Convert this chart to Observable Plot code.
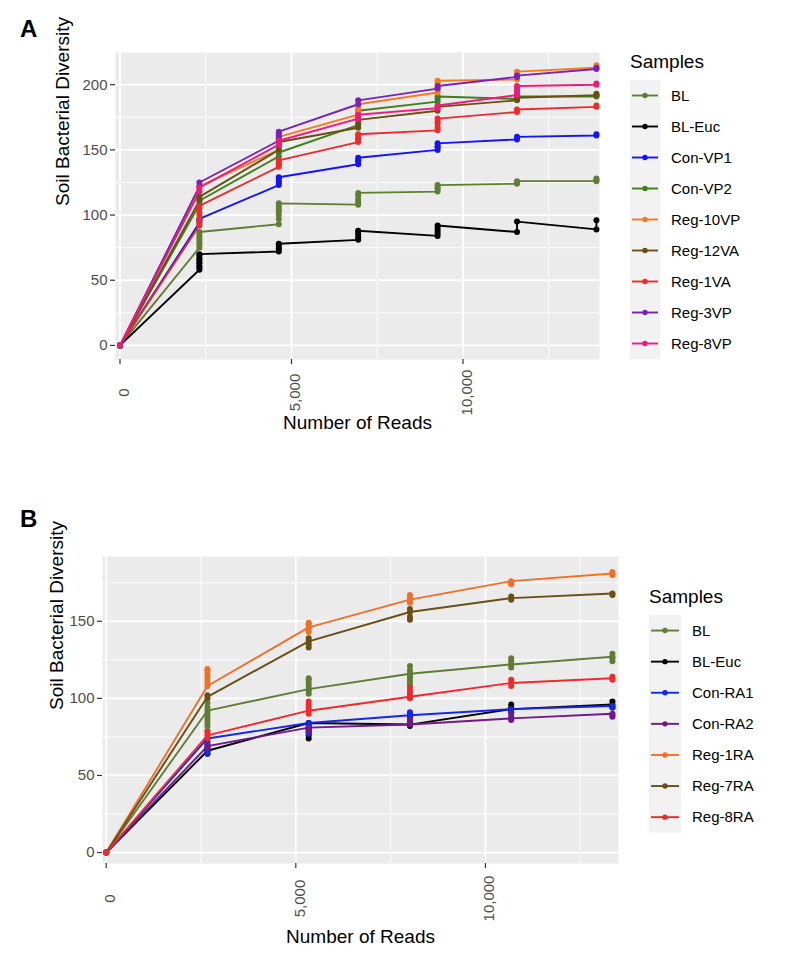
<!DOCTYPE html>
<html><head><meta charset="utf-8">
<script src="https://cdn.jsdelivr.net/npm/d3@7"></script>
<script src="https://cdn.jsdelivr.net/npm/@observablehq/plot@0.6"></script>
<style>
body{margin:0;background:#fff;font-family:"Liberation Sans",Arial,sans-serif;}
#wrap{position:relative;width:800px;height:967px;overflow:hidden;}
.panel{position:absolute;left:0;}
#overlay{position:absolute;left:0;top:0;pointer-events:none;}
</style></head><body><div id="wrap"></div>
<script>
// ---------- Panel A ----------
const readsA = [0, 2315, 4630, 6945, 9260, 11575, 13890];
const samplesA = ["BL", "BL-Euc", "Con-VP1", "Con-VP2", "Reg-10VP", "Reg-12VA", "Reg-1VA", "Reg-3VP", "Reg-8VP"];
const colorsA = ["#617d34", "#000000", "#1414f5", "#3f7f1f", "#f47a20", "#6a4f15", "#ee2a2a", "#7a22b8", "#ee1b7a"];
// values at each read depth (several rarefaction draws per depth); the line runs through all of them
const A_BL      = [[0], [75, 77, 79, 81, 83, 85, 87], [93, 97, 100, 103, 105, 107, 109], [108, 110, 112, 115, 117], [118, 120, 121, 123], [124, 125, 126], [126, 127, 128]];
const A_BLEuc   = [[0], [58, 60, 61, 63, 64, 66, 67, 69, 70], [72, 74, 75, 77, 78], [81, 83, 85, 87, 88], [84, 86, 88, 90, 92], [87, 95], [89, 96]];
const A_ConVP1  = [[0], [94, 96, 97], [123, 125, 126, 128, 129], [139, 141, 142, 144], [150, 152, 153, 155], [158, 160], [161, 162]];
const A_ConVP2  = [[0], [108, 111], [145, 148], [169, 175, 180], [187, 189, 191], [189, 191], [191, 192]];
const A_Reg10VP = [[0], [119, 122], [150, 153, 155, 158, 160], [177, 179, 181, 183, 185], [194, 196, 198, 201, 203], [204, 207, 210], [213, 215]];
const A_Reg12VA = [[0], [111, 114], [150, 153, 156], [167, 170, 173], [180, 183], [188, 190], [192, 193]];
const A_Reg1VA  = [[0], [92, 95, 97, 100, 102, 105, 107], [137, 139, 140, 142], [156, 158, 159, 161, 162], [165, 167, 170, 172, 174], [179, 181], [183, 184]];
const A_Reg3VP  = [[0], [122, 125], [157, 159, 161, 163, 164], [185, 188], [197, 199], [206, 207], [212, 213]];
const A_Reg8VP  = [[0], [118, 121], [154, 157], [174, 177], [182, 184], [192, 194, 196, 198, 199], [200, 201]];
const xTicks = [0, 5000, 10000];
const xMinor = [2500, 7500, 12500];
const yTicksA = [0, 50, 100, 150, 200];
const yMinorA = [25, 75, 125, 175];

// ---------- Panel B ----------
const readsB = [0, 2670, 5340, 8010, 10680, 13350];
const samplesB = ["BL", "BL-Euc", "Con-RA1", "Con-RA2", "Reg-1RA", "Reg-7RA", "Reg-8RA"];
const colorsB = ["#617d34", "#000000", "#1428e8", "#6e1a8a", "#f07028", "#6a4f15", "#ee2a2a"];
// dots: rarefaction draws at each depth
const B_BL     = [[0], [79, 82, 84, 86, 88, 90, 92, 94, 97], [103, 105, 106, 108, 110, 112, 113], [109, 111, 113, 115, 116, 118, 121], [120, 122, 124, 126], [124, 126, 127, 129]];
const B_BLEuc  = [[0], [64, 66, 67], [74, 76, 78, 80, 82, 84], [82, 84, 86, 88, 90], [91, 93, 94, 96], [94, 96, 98]];
const B_ConRA1 = [[0], [64, 66, 68, 70, 72, 74], [77, 79, 81, 83, 84], [86, 88, 89, 91], [91, 93], [94, 95]];
const B_ConRA2 = [[0], [68, 69, 70], [79, 81], [83, 85, 86], [86, 87, 88, 90], [88, 89, 90]];
const B_Reg1RA = [[0], [108, 110, 112, 114, 116, 118, 119], [143, 145, 146, 148, 149], [162, 164, 165, 167], [174, 175, 176], [180, 181, 182]];
const B_Reg7RA = [[0], [100, 102], [133, 135, 137, 139], [151, 153, 156, 158], [164, 166], [167, 168]];
const B_Reg8RA = [[0], [74, 76, 78], [90, 92, 94, 96, 98], [100, 101, 103, 105, 107], [108, 110, 112], [112, 113, 114]];
// line: one curve per sample through the clusters
const B_BL_line     = [0, 92, 106, 116, 122, 127];
const B_BLEuc_line  = [0, 66, 84, 83, 93, 96];
const B_ConRA1_line = [0, 74, 84, 89, 93, 95];
const B_ConRA2_line = [0, 69, 81, 83, 87, 90];
const B_Reg1RA_line = [0, 108, 146, 164, 176, 181];
const B_Reg7RA_line = [0, 101, 137, 156, 165, 168];
const B_Reg8RA_line = [0, 76, 92, 101, 110, 113];
const yTicksB = [0, 50, 100, 150];
const yMinorB = [25, 75, 125, 175];

const seriesA = [A_BL, A_BLEuc, A_ConVP1, A_ConVP2, A_Reg10VP, A_Reg12VA, A_Reg1VA, A_Reg3VP, A_Reg8VP];
const seriesB = [B_BL, B_BLEuc, B_ConRA1, B_ConRA2, B_Reg1RA, B_Reg7RA, B_Reg8RA];
const linesB = [B_BL_line, B_BLEuc_line, B_ConRA1_line, B_ConRA2_line, B_Reg1RA_line, B_Reg7RA_line, B_Reg8RA_line];

function toRows(samples, xs, series) {
  const out = [];
  samples.forEach((s, i) => {
    series[i].forEach((vals, j) => {
      vals.slice().sort((a, b) => a - b).forEach(v => out.push({sample: s, reads: xs[j], div: v}));
    });
  });
  return out;
}
function lineRows(samples, xs, lines) {
  const out = [];
  samples.forEach((s, i) => lines[i].forEach((v, j) => out.push({sample: s, reads: xs[j], div: v})));
  return out;
}

const FONT = "'Liberation Sans', Arial, sans-serif";

function panel(cfg) {
  const dots = toRows(cfg.samples, cfg.xs, cfg.series);
  const path = cfg.lines ? lineRows(cfg.samples, cfg.xs, cfg.lines) : dots;
  return Plot.plot({
    width: cfg.width, height: cfg.height,
    marginLeft: cfg.ml, marginTop: cfg.mt, marginRight: cfg.mr, marginBottom: cfg.mb,
    style: {fontFamily: FONT, background: "transparent", overflow: "visible"},
    x: {domain: cfg.xdomain},
    y: {domain: cfg.ydomain},
    color: {domain: cfg.samples, range: cfg.colors},
    marks: [
      Plot.frame({fill: "#ebebeb", stroke: "none"}),
      Plot.gridX(xMinor, {stroke: "#ffffff", strokeOpacity: 1, strokeWidth: 0.9}),
      Plot.gridY(cfg.yminor.filter(v => v < cfg.ydomain[1]), {stroke: "#ffffff", strokeOpacity: 1, strokeWidth: 0.9}),
      Plot.gridX(xTicks, {stroke: "#ffffff", strokeOpacity: 1, strokeWidth: 1.8}),
      Plot.gridY(cfg.yticks, {stroke: "#ffffff", strokeOpacity: 1, strokeWidth: 1.8}),
      Plot.axisY(cfg.yticks, {tickSize: 5, tickPadding: 3, fontSize: 15, fill: "#4d4d4d", stroke: "#333333", strokeWidth: 1.2, label: null}),
      Plot.axisX(xTicks, {tickSize: 5, tickFormat: () => "", stroke: "#333333", strokeWidth: 1.2, label: null}),
      Plot.axisX(xTicks, {tickSize: 0, tickRotate: -90, textAnchor: "middle", tickPadding: cfg.tickPadX, dx: 4, tickFormat: d3.format(","), fontSize: 15, fill: "#4d4d4d", label: null}),
      Plot.line(path, {x: "reads", y: "div", z: "sample", stroke: "sample", strokeWidth: 1.9}),
      Plot.dot(dots, {x: "reads", y: "div", fill: "sample", r: 3}),
      Plot.text(["Number of Reads"], {text: d => d, frameAnchor: "bottom", dy: cfg.xtitleDy, fontSize: 19, fill: "#000"}),
      Plot.text(["Soil Bacterial Diversity"], {text: d => d, frameAnchor: "left", dx: cfg.ytitleDx, rotate: -90, fontSize: 19, fill: "#000"})
    ]
  });
}

const wrap = document.getElementById("wrap");

const plotA = panel({
  samples: samplesA, colors: colorsA, xs: readsA, series: seriesA,
  width: 620, height: 450, ml: 115, mt: 52, mr: 21, mb: 91,
  xdomain: [-131, 13980], ydomain: [-10.8, 224.7],
  yticks: yTicksA, yminor: yMinorA, tickPadX: 33, xtitleDy: 69, ytitleDx: -53
});
plotA.classList.add("panel");
plotA.style.top = "0px";
wrap.appendChild(plotA);

const plotB = panel({
  samples: samplesB, colors: colorsB, xs: readsB, series: seriesB, lines: linesB,
  width: 640, height: 497, ml: 102, mt: 86, mr: 22, mb: 104,
  xdomain: [-98, 13510], ydomain: [-7.1, 192],
  yticks: yTicksB, yminor: yMinorB, tickPadX: 35, xtitleDy: 79, ytitleDx: -46
});
plotB.classList.add("panel");
plotB.style.top = "470px";
wrap.appendChild(plotB);

// ---------- Overlay: panel letters and legends ----------
const svg = d3.select(wrap).append("svg").attr("id", "overlay")
  .attr("width", 800).attr("height", 967).style("font-family", FONT);

svg.append("text").attr("x", 20).attr("y", 37).attr("font-size", 24).attr("font-weight", "bold").text("A");
svg.append("text").attr("x", 20).attr("y", 527).attr("font-size", 24).attr("font-weight", "bold").text("B");

function legend(x0, titleY, keyTop, keyW, step, labelX, samples, colors) {
  const g = svg.append("g");
  g.append("text").attr("x", x0).attr("y", titleY).attr("font-size", 19).text("Samples");
  g.append("rect").attr("x", x0).attr("y", keyTop).attr("width", keyW).attr("height", step * samples.length).attr("fill", "#f2f2f2");
  samples.forEach((s, i) => {
    const cy = keyTop + step * (i + 0.5);
    g.append("line").attr("x1", x0 + 2).attr("x2", x0 + keyW - 2).attr("y1", cy).attr("y2", cy)
      .attr("stroke", colors[i]).attr("stroke-width", 1.9);
    g.append("circle").attr("cx", x0 + keyW / 2).attr("cy", cy).attr("r", 2.7).attr("fill", colors[i]);
    g.append("text").attr("x", labelX).attr("y", cy).attr("dy", "0.35em").attr("font-size", 15).text(s);
  });
}
legend(630, 68, 80, 30, 31, 671, samplesA, colorsA);
legend(649, 603, 615, 32, 31.1, 692, samplesB, colorsB);
</script></body></html>
